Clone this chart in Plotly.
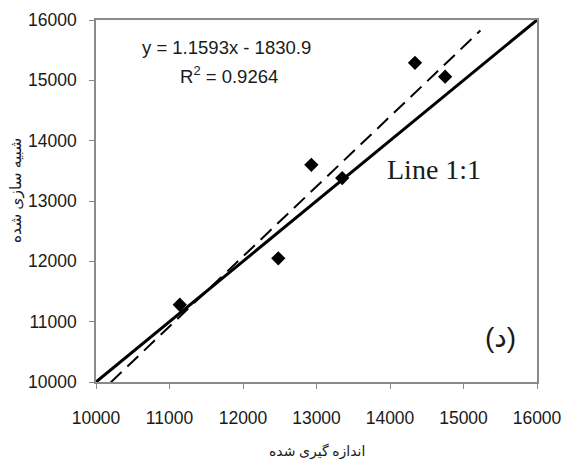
import plotly.graph_objects as go

# measured vs simulated
measured = [11140, 12480, 12930, 13350, 14340, 14750]
simulated = [11280, 12050, 13600, 13380, 15290, 15060]

# regression line y = a x + b
slope = 1.1593
intercept = -1830.9
fit_x = [10200, 15230]
fit_y = [slope * v + intercept for v in fit_x]

# 1:1 line
one_x = [10000, 16000]
one_y = [10000, 16000]

tick_vals = [10000, 11000, 12000, 13000, 14000, 15000, 16000]
tick_text = ["10000", "11000", "12000", "13000", "14000", "15000", "16000"]

fig = go.Figure()
fig.add_trace(go.Scatter(x=one_x, y=one_y, mode="lines",
                         line=dict(color="black", width=3), showlegend=False))
fig.add_trace(go.Scatter(x=fit_x, y=fit_y, mode="lines",
                         line=dict(color="black", width=2, dash="15px,8px"), showlegend=False))
fig.add_trace(go.Scatter(x=measured, y=simulated, mode="markers",
                         marker=dict(symbol="diamond", size=11, color="black"), showlegend=False))

axis_common = dict(
    showgrid=False, zeroline=False, showline=True, linecolor="#8a8a8a", linewidth=1.5,
    mirror=True, ticks="outside", ticklen=5, tickcolor="#8a8a8a", tickwidth=1,
    tickvals=tick_vals, ticktext=tick_text, automargin=False,
    tickfont=dict(family="Liberation Sans, Arial", size=17.5, color="#1a1a1a"),
)
fig.update_xaxes(range=[10000, 16000], ticklabelstandoff=14, **axis_common)
fig.update_yaxes(range=[10000, 16000], ticklabelstandoff=9, **axis_common)


def note(text, x, y, family, size, angle=0):
    return dict(text=text, x=x, y=y, xref="paper", yref="paper", xanchor="center",
                yanchor="middle", showarrow=False, textangle=angle,
                font=dict(family=family, size=size, color="#1a1a1a"))


ann = [
    note("y = 1.1593x - 1830.9", 0.295, 0.923, "Liberation Sans, Arial", 18.5),
    note("R<sup>2</sup> = 0.9264", 0.302, 0.848, "Liberation Sans, Arial", 18.5),
    note("Line 1:1", 0.766, 0.586, "Liberation Serif, Times New Roman", 28),
    note("(د)", 0.918, 0.124, "Liberation Sans, DejaVu Sans", 28),
    note("اندازه گیری شده", 0.501, -0.188, "Noto Sans, DejaVu Sans", 14),
    note("شبیه سازی شده", -0.184, 0.530, "Noto Sans, DejaVu Sans", 15.5, -90),
]

fig.update_layout(
    width=563, height=459,
    margin=dict(l=96, r=26, t=20, b=77, autoexpand=False),
    paper_bgcolor="white", plot_bgcolor="white",
    annotations=ann,
)

fig.write_html("out.html", config={"displayModeBar": False},
               post_script="document.body.style.margin='0px';")
